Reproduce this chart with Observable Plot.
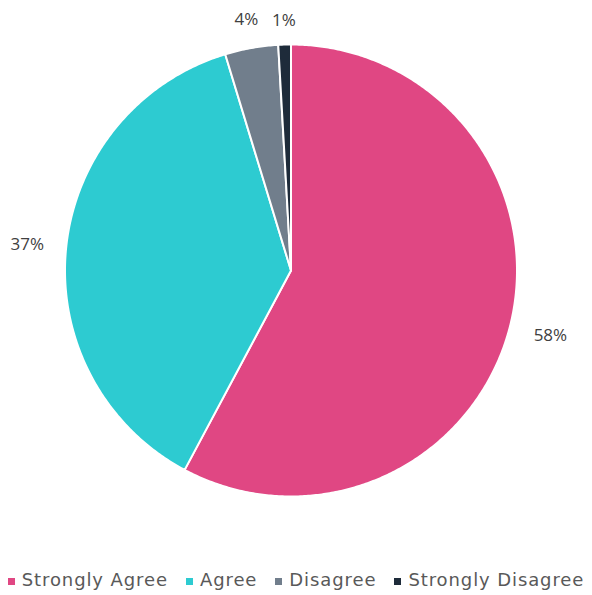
<!DOCTYPE html>
<html>
<head>
<meta charset="utf-8">
<script src="https://cdn.jsdelivr.net/npm/d3@7"></script>
<script src="https://cdn.jsdelivr.net/npm/@observablehq/plot@0.6"></script>
<style>
  html, body { margin: 0; padding: 0; background: #fff; }
  #chart { width: 592px; }
  .legend { display: flex; justify-content: center; align-items: center; height: 35px; margin-top: 2px;
    font-family: "DejaVu Sans", sans-serif; font-size: 18px; letter-spacing: 0.9px; color: #595959;
    white-space: nowrap; }
  .legend .item { display: flex; align-items: center; margin: 0 9px; flex-shrink: 0; white-space: nowrap; }
  .legend .sw { width: 7px; height: 7px; margin-right: 7px; margin-top: 3px; flex-shrink: 0; }
</style>
</head>
<body>
<div id="chart"></div>
<script>
const categories = ["Strongly Agree", "Agree", "Disagree", "Strongly Disagree"];
const values = [57.8, 37.5, 3.8, 0.9];
const labels = ["58%", "37%", "4%", "1%"];
const colors = ["#E04783", "#2DCBD1", "#717E8C", "#1E2B3A"];

const W = 592, H = 560;
const cx = 290.5, cy = 270, R = 226;
const fontSize = 17;

const rows = categories.map((c, i) => ({category: c, value: values[i], label: labels[i]}));
const arcs = d3.pie().sort(null).value(d => d.value)(rows);

// slice polygons in unit coordinates (y up)
const poly = [];
for (const a of arcs) {
  const c = a.data.category;
  poly.push({category: c, x: 0, y: 0});
  const n = Math.max(2, Math.ceil((a.endAngle - a.startAngle) / (Math.PI / 360)));
  for (let k = 0; k <= n; k++) {
    const t = a.startAngle + (a.endAngle - a.startAngle) * k / n;
    poly.push({category: c, x: Math.sin(t), y: Math.cos(t)});
  }
}

// label positions, outside end
const padX = 22, padY = 15;
const labelPts = arcs.map(a => {
  const m = (a.startAngle + a.endAngle) / 2;
  const sx = Math.abs(Math.sin(m)), sy = Math.abs(Math.cos(m));
  const w = a.data.label.length * 0.58 * fontSize, h = fontSize;
  const dist = R + padX * sx + padY * sy + sx * w / 2 + sy * h / 2;
  return {label: a.data.label, x: Math.sin(m) * dist / R, y: Math.cos(m) * dist / R};
});

const plot = Plot.plot({
  width: W,
  height: H,
  margin: 0,
  x: {domain: [-1, 1], range: [cx - R, cx + R], axis: null},
  y: {domain: [-1, 1], range: [cy + R, cy - R], axis: null},
  color: {domain: categories, range: colors},
  style: {background: "#fff"},
  marks: [
    Plot.line(poly, {x: "x", y: "y", z: "category", fill: "category", stroke: "#fff",
      strokeWidth: 2, strokeLinejoin: "round", curve: "linear-closed"}),
    Plot.text(labelPts, {x: "x", y: "y", text: "label", fontSize: fontSize,
      fontFamily: "Open Sans, sans-serif", fill: "#404040", textAnchor: "middle", lineAnchor: "middle"})
  ]
});
document.getElementById("chart").appendChild(plot);

const legend = document.createElement("div");
legend.className = "legend";
categories.forEach((c, i) => {
  const item = document.createElement("div");
  item.className = "item";
  const sw = document.createElement("span");
  sw.className = "sw";
  sw.style.background = colors[i];
  const tx = document.createElement("span");
  tx.textContent = c;
  item.appendChild(sw);
  item.appendChild(tx);
  legend.appendChild(item);
});
document.getElementById("chart").appendChild(legend);
</script>
</body>
</html>
